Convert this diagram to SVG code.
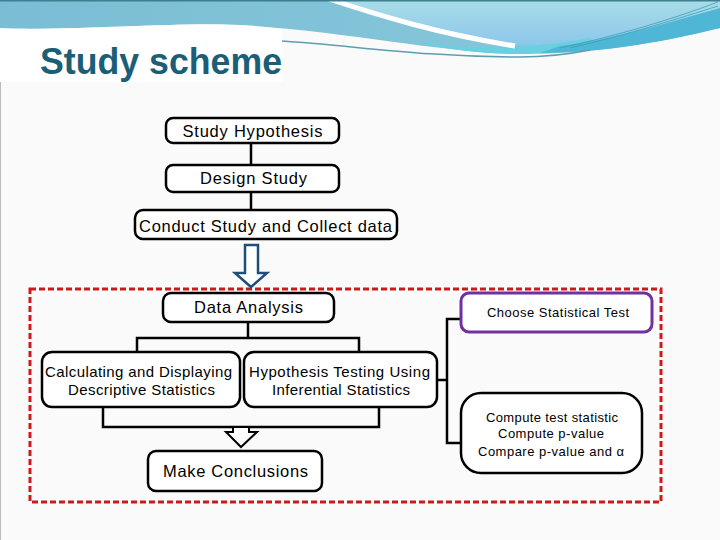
<svg xmlns="http://www.w3.org/2000/svg" width="720" height="540" viewBox="0 0 720 540">
<defs>
<linearGradient id="bandL" x1="0" y1="0" x2="1" y2="0">
<stop offset="0" stop-color="#7bbdd4"/>
<stop offset="1" stop-color="#88c9dc"/>
</linearGradient>
<linearGradient id="bandR" x1="0" y1="0" x2="0" y2="1">
<stop offset="0" stop-color="#a8dde8"/>
<stop offset="1" stop-color="#8cc6ea"/>
</linearGradient>
<style>
.box{fill:#ffffff;stroke:#000000;stroke-width:2.5}
.t{font-family:"Liberation Sans",Arial,sans-serif;fill:#000000;text-anchor:middle}
.conn{fill:none;stroke:#000000;stroke-width:2.5}
</style>
</defs>
<rect x="0" y="0" width="720" height="540" fill="#fafafa"/>
<!-- banner -->
<g id="banner">
<path d="M0,0 H720 V28 C650,45 585,55 515,54 C420,52 300,20 170,25 C100,27 40,30 0,30 Z" fill="url(#bandL)"/>
<path d="M330,0 H720 V26 C650,44 590,48 530,46 C470,40 420,28 330,0 Z" fill="url(#bandR)"/>
<path d="M380,36 C430,46 480,50 520,46 C545,45 570,42 590,38 C600,44 560,53 515,54 C470,54 420,44 380,36 Z" fill="#6ad0e0"/>
<path d="M560,46 C620,38 670,22 720,8 V28 C650,45 600,52 540,53 Z" fill="#4fb6d6"/>
<path d="M326,-2 C380,16 440,34 515,46" fill="none" stroke="#ffffff" stroke-width="5"/>
<path d="M560,48 C620,35 670,20 718,2" fill="none" stroke="#3a9fb8" stroke-width="0.8"/>
<path d="M570,48 C630,34 680,18 718,6" fill="none" stroke="#3a9fb8" stroke-width="0.8"/>
<path d="M282,41 C350,45 420,57 520,57 C550,57 570,54 590,50" fill="none" stroke="#5b9fae" stroke-width="1.5"/>
<rect x="0" y="0" width="720" height="1.5" fill="#3d7f90"/>
<path d="M0,28 C40,30 100,27 170,25 C230,23 270,26 282,30 V82 H0 Z" fill="#ffffff"/>
<line x1="0.5" y1="82" x2="0.5" y2="540" stroke="#bbbbbb" stroke-width="1"/>
<text x="40" y="74" font-family="'Liberation Sans',Arial,sans-serif" font-weight="bold" font-size="36" fill="#1b5e78" textLength="242" lengthAdjust="spacingAndGlyphs">Study scheme</text>
</g>
<!-- red dashed frame -->
<rect x="30" y="289" width="631" height="213" fill="none" stroke="#cc1a1a" stroke-width="3" stroke-dasharray="6 3"/>
<!-- connectors -->
<g id="connectors">
<line class="conn" x1="251" y1="143" x2="251" y2="165"/>
<line class="conn" x1="251" y1="192" x2="251" y2="210"/>
<polygon points="245,245 258,245 258,273 267,273 251,287 235,273 245,273" fill="#ffffff" stroke="#1f4e79" stroke-width="2.5"/>
<path class="conn" d="M248,322 V338 M137,352 V338 H359 V352"/>
<path class="conn" d="M103,407 V427 H379 V407"/>
<polygon points="233,427 249,427 249,432 257,432 241,447 226,432 233,432" fill="#ffffff" stroke="#000000" stroke-width="2"/>
<path class="conn" d="M437,380 H447 M461,319 H447 V443 H461"/>
</g>
<g id="n1"><rect class="box" x="166" y="118" width="173" height="25" rx="7"/><text class="t" x="252.5" y="137" font-size="16.5" textLength="140">Study Hypothesis</text></g>
<g id="n2"><rect class="box" x="166" y="165" width="173" height="27" rx="7"/><text class="t" x="253.5" y="184" font-size="16.5" textLength="107">Design Study</text></g>
<g id="n3"><rect class="box" x="135" y="210" width="262" height="29" rx="8"/><text class="t" x="265.5" y="232" font-size="16.5" textLength="253">Conduct Study and Collect data</text></g>
<g id="n4"><rect class="box" x="163" y="293" width="171" height="29" rx="8"/><text class="t" x="248.5" y="313" font-size="16.5" textLength="109">Data Analysis</text></g>
<g id="n5"><rect class="box" x="42" y="352" width="198" height="55" rx="10"/><text class="t" x="138.5" y="377" font-size="15" textLength="187">Calculating and Displaying</text><text class="t" x="141.5" y="395" font-size="15" textLength="147">Descriptive Statistics</text></g>
<g id="n6"><rect class="box" x="244" y="352" width="193" height="55" rx="10"/><text class="t" x="339.5" y="377" font-size="15" textLength="181">Hypothesis Testing Using</text><text class="t" x="341" y="395" font-size="15" textLength="138">Inferential Statistics</text></g>
<g id="n7"><rect class="box" x="148" y="451" width="174" height="40" rx="8"/><text class="t" x="235.5" y="477" font-size="16.5" textLength="145">Make Conclusions</text></g>
<g id="n8"><rect x="461" y="293" width="191" height="39" rx="8" fill="#ffffff" stroke="#7030a0" stroke-width="3"/><text class="t" x="558" y="317" font-size="13" textLength="142">Choose Statistical Test</text></g>
<g id="n9"><rect class="box" x="461" y="393" width="181" height="80" rx="20"/><text class="t" x="552" y="422" font-size="13" textLength="132">Compute test statistic</text><text class="t" x="551" y="438" font-size="13" textLength="106">Compute p-value</text><text class="t" x="551" y="456" font-size="13" textLength="146">Compare p-value and α</text></g>
</svg>
